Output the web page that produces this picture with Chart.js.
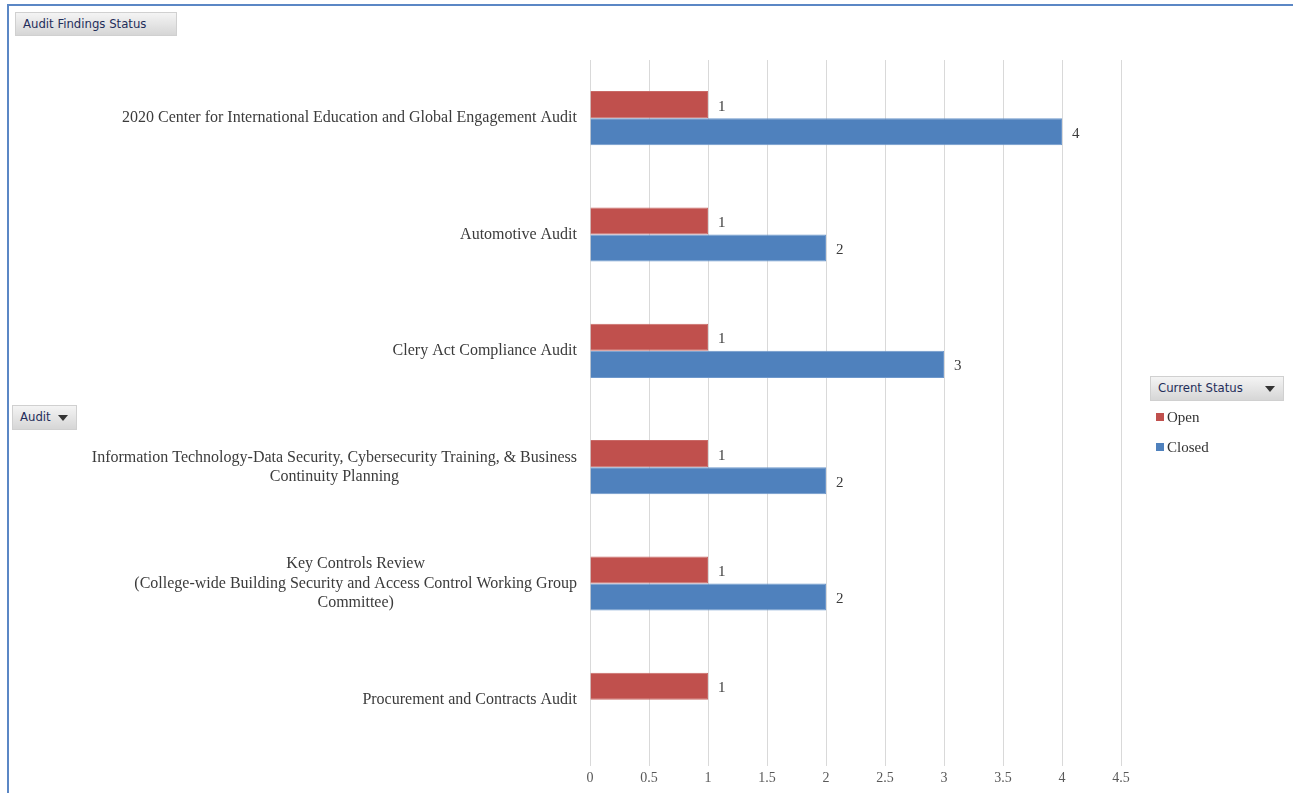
<!DOCTYPE html>
<html>
<head>
<meta charset="utf-8">
<title>Audit Findings Status</title>
<script src="https://cdn.jsdelivr.net/npm/chart.js@4/dist/chart.umd.min.js"></script>
<style>
  html, body { margin: 0; padding: 0; background: #fff; }
  body { width: 1293px; height: 793px; position: relative; overflow: hidden; }
  #frame {
    position: absolute; left: 7px; top: 4px; right: 0; bottom: 0;
    border-left: 2px solid #5b87c5; border-top: 2px solid #5b87c5;
  }
  #chart-wrap { position: absolute; left: 0; top: 0; width: 1293px; height: 793px; }
  .btn {
    position: absolute; box-sizing: border-box;
    background: linear-gradient(#f4f4f4, #d6d6d6);
    border: 1px solid #d0d0d0;
    font-family: "Liberation Sans Narrow", "DejaVu Sans Condensed", sans-serif;
    font-size: 13px; color: #1f2d5a; line-height: 22px; padding-left: 7px;
  }
  .arrow {
    position: absolute; top: 9px; width: 0; height: 0;
    border-left: 5px solid transparent; border-right: 5px solid transparent;
    border-top: 6px solid #333;
  }
  #legend { position: absolute; left: 1156px; top: 406px; font-family: "Liberation Serif", serif; font-size: 15px; color: #333; }
  #legend div { height: 30px; line-height: 22px; }
  #legend span.sw { display: inline-block; width: 8px; height: 8px; margin-right: 3px; vertical-align: 1px; }
</style>
</head>
<body>
<div id="frame"></div>
<div id="chart-wrap"><canvas id="audit-chart" width="1293" height="793"></canvas></div>
<div class="btn" style="left:15px; top:12px; width:162px; height:24px;">Audit Findings Status</div>
<div class="btn" style="left:12px; top:405px; width:65px; height:25px;">Audit<span class="arrow" style="left:45px"></span></div>
<div class="btn" style="left:1150px; top:376px; width:134px; height:25px;">Current Status<span class="arrow" style="left:114px"></span></div>
<div id="legend"></div>

<script>
// Categories (each entry is a list of lines)
var audits = [
    ['2020 Center for International Education and Global Engagement Audit'],
    ['Automotive Audit'],
    ['Clery Act Compliance Audit'],
    ['Information Technology-Data Security, Cybersecurity Training, & Business', 'Continuity Planning'],
    ['Key Controls Review', '(College-wide Building Security and Access Control Working Group', 'Committee)'],
    ['Procurement and Contracts Audit']
];

// Series
var seriesNames = ['Open', 'Closed'];
var seriesColors = ['#c0504d', '#4f81bd'];
var openCounts = [1, 1, 1, 1, 1, 1];
var closedCounts = [4, 2, 3, 2, 2, null];

// X axis
var xMin = 0;
var xMax = 4.5;
var xStep = 0.5;

var serifFont = '"Liberation Serif", "Times New Roman", serif';

// Draws category labels (block right aligned, lines centred) and the value labels
var labelPlugin = {
    id: 'labelPlugin',
    afterDatasetsDraw: function(chart) {
        var ctx = chart.ctx;
        var yScale = chart.scales.y;
        ctx.save();
        ctx.fillStyle = '#3b3b3b';
        ctx.font = '16px ' + serifFont;
        ctx.textBaseline = 'middle';
        ctx.textAlign = 'center';
        var lineH = 19.5;
        audits.forEach(function(lines, i) {
            var cy = yScale.getPixelForValue(i);
            var widest = 0;
            lines.forEach(function(l) { widest = Math.max(widest, ctx.measureText(l).width); });
            var cx = chart.chartArea.left - 13 - widest / 2;
            lines.forEach(function(l, j) {
                ctx.fillText(l, cx, cy + (j - (lines.length - 1) / 2) * lineH);
            });
        });

        ctx.textAlign = 'left';
        ctx.font = '15px ' + serifFont;
        chart.data.datasets.forEach(function(ds, di) {
            var meta = chart.getDatasetMeta(di);
            meta.data.forEach(function(bar, i) {
                var v = ds.data[i];
                if (v === null || v === undefined) return;
                ctx.fillText(String(v), bar.x + 10, bar.y + 2);
            });
        });
        ctx.restore();
    }
};

document.addEventListener('DOMContentLoaded', function() {
    var ctx = document.getElementById('audit-chart').getContext('2d');
    var auditChart = new Chart(ctx, {
        type: 'bar',
        data: {
            labels: audits.map(function(a) { return a.join(' '); }),
            datasets: [
                {
                    label: seriesNames[0],
                    data: openCounts,
                    backgroundColor: seriesColors[0],
                    borderColor: '#c96a67',
                    borderWidth: 1
                },
                {
                    label: seriesNames[1],
                    data: closedCounts,
                    backgroundColor: seriesColors[1],
                    borderColor: '#6e98cc',
                    borderWidth: 1
                }
            ]
        },
        options: {
            indexAxis: 'y',
            responsive: false,
            animation: false,
            layout: { padding: { left: 10, right: 172, top: 60, bottom: 5 } },
            plugins: {
                legend: { display: false },
                tooltip: { enabled: false }
            },
            datasets: {
                bar: { categoryPercentage: 0.465, barPercentage: 1.0 }
            },
            scales: {
                x: {
                    min: xMin,
                    max: xMax,
                    ticks: {
                        stepSize: xStep,
                        color: '#595959',
                        font: { family: serifFont, size: 14 },
                        padding: 4,
                        callback: function(value) { return String(Number(value)); }
                    },
                    grid: { color: '#d9d9d9', tickLength: 8, lineWidth: 1 },
                    border: { display: false },
                    afterFit: function(scale) { scale.height = 30; }
                },
                y: {
                    ticks: { display: false },
                    grid: { display: false },
                    border: { display: false },
                    afterFit: function(scale) { scale.width = 580; }
                }
            }
        },
        plugins: [labelPlugin]
    });

    // Legend built from the series arrays
    var legend = document.getElementById('legend');
    seriesNames.forEach(function(name, i) {
        var row = document.createElement('div');
        row.innerHTML = '<span class="sw" style="background:' + seriesColors[i] + '"></span>' + name;
        legend.appendChild(row);
    });
});
</script>
</body>
</html>
